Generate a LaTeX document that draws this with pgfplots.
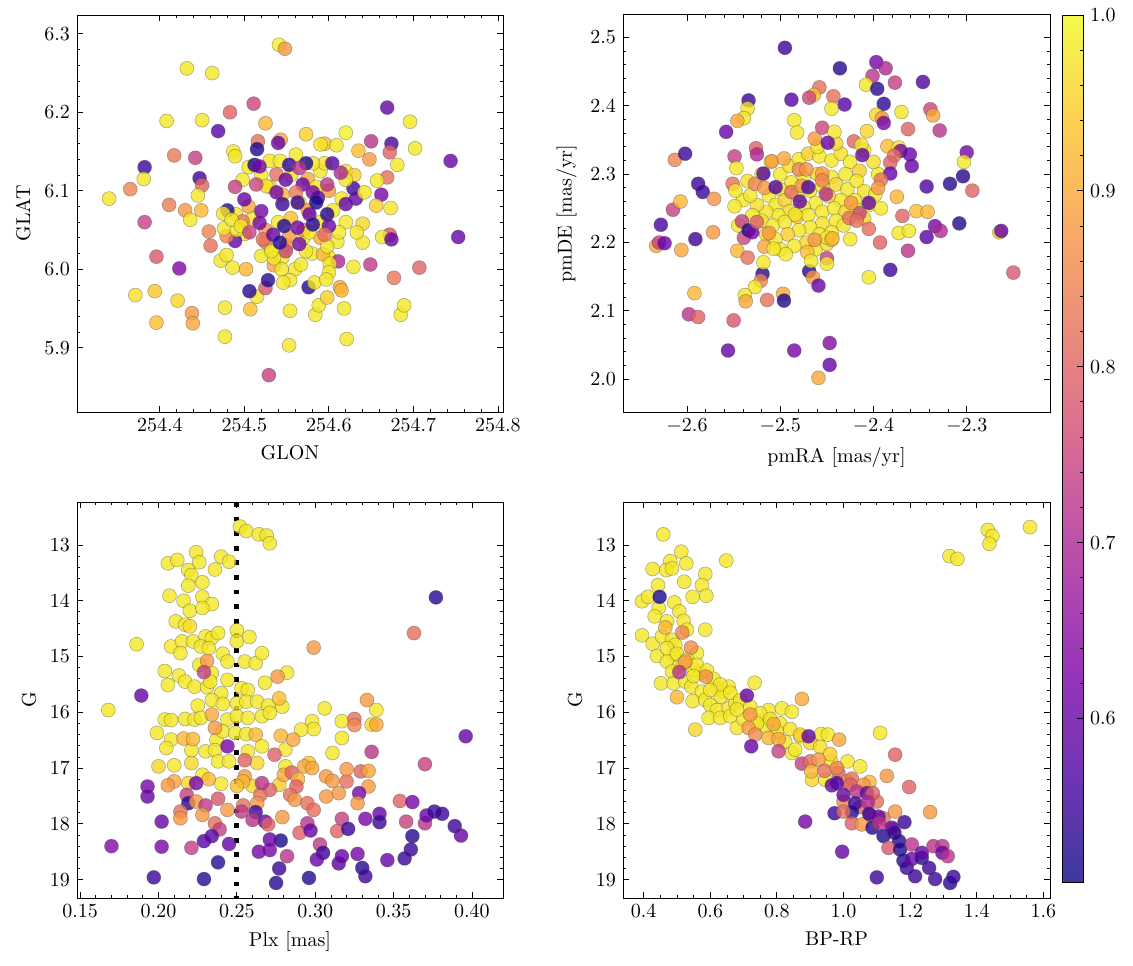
\documentclass[border=0pt]{standalone}
\usepackage{pgfplots}
\usepackage{pgfplotstable}
\pgfplotsset{compat=1.18}
\pgfplotsset{
 colormap={plasmalight}{rgb255=(61,57,159) rgb255=(112,53,180) rgb255=(152,53,185) rgb255=(185,78,171) rgb255=(213,107,148) rgb255=(234,137,125) rgb255=(249,170,102) rgb255=(253,207,83) rgb255=(243,250,77)},
 colormap={plasma}{rgb255=(13,8,135) rgb255=(76,2,161) rgb255=(126,3,168) rgb255=(168,34,150) rgb255=(203,70,121) rgb255=(229,107,93) rgb255=(248,149,64) rgb255=(253,195,40) rgb255=(240,249,33)},
 panel/.style={scale only axis, tick align=inside, tick pos=both, xticklabel pos=lower, yticklabel pos=left,
   major tick length=3pt, minor tick length=1.6pt, every tick/.style={black, line width=0.4pt},
   axis line style={line width=0.5pt}, colormap name=plasma, point meta min=0.507, point meta max=1.0,
   scaled ticks=false},
 pts/.style={scatter, only marks, mark=*, mark size=3.5pt, scatter src=explicit,
   scatter/use mapped color={draw=black!70, fill=mapped color},
   mark options={fill opacity=0.8, draw opacity=0.45, line width=0.3pt}},
}

\pgfplotstableread{
x y c
254.530 6.105 0.95
254.555 6.120 0.98
254.575 6.115 0.90
254.590 6.125 0.98
254.600 6.100 0.88
254.545 6.095 0.92
254.565 6.085 0.98
254.575 6.075 0.88
254.555 6.065 0.93
254.540 6.060 0.98
254.525 6.050 0.88
254.510 6.065 0.98
254.505 6.080 0.90
254.590 6.060 0.98
254.605 6.075 0.98
254.615 6.090 0.98
254.620 6.060 0.98
254.610 6.035 0.98
254.590 6.040 0.90
254.570 6.040 0.98
254.550 6.030 0.90
254.530 6.025 0.98
254.525 6.035 0.85
254.500 6.045 0.98
254.490 6.070 0.98
254.570 6.050 0.85
254.585 6.105 0.98
254.595 6.135 0.98
254.520 6.120 0.98
254.505 6.130 0.98
254.620 6.125 0.98
254.630 6.120 0.95
254.600 6.015 0.98
254.580 6.020 0.98
254.560 6.000 0.98
254.545 6.015 0.98
254.535 6.005 0.90
254.541 6.286 0.99
254.548 6.281 0.88
254.432 6.256 0.98
254.462 6.250 0.98
254.511 6.211 0.75
254.669 6.206 0.60
254.483 6.200 0.80
254.408 6.189 0.98
254.450 6.190 0.98
254.525 6.186 0.92
254.696 6.188 0.98
254.469 6.176 0.58
254.573 6.172 0.95
254.620 6.174 0.99
254.516 6.163 0.82
254.543 6.165 0.90
254.540 6.161 0.60
254.595 6.160 0.93
254.609 6.158 0.98
254.590 6.159 0.98
254.650 6.163 0.72
254.674 6.160 0.56
254.702 6.154 0.98
254.635 6.151 0.93
254.672 6.149 0.80
254.487 6.150 0.98
254.515 6.153 0.52
254.417 6.145 0.83
254.442 6.142 0.74
254.648 6.140 0.88
254.382 6.130 0.55
254.744 6.138 0.60
254.681 6.133 0.98
254.381 6.115 0.98
254.447 6.116 0.55
254.450 6.107 0.80
254.365 6.102 0.85
254.340 6.090 0.98
254.445 6.094 0.98
254.669 6.117 0.82
254.657 6.113 0.98
254.629 6.103 0.56
254.632 6.090 0.60
254.662 6.095 0.62
254.642 6.098 0.98
254.411 6.082 0.84
254.430 6.075 0.88
254.449 6.075 0.92
254.436 6.063 0.98
254.656 6.081 0.95
254.673 6.078 0.98
254.382 6.060 0.74
254.458 6.048 0.85
254.460 6.030 0.82
254.396 6.016 0.78
254.423 6.001 0.63
254.371 5.967 0.97
254.394 5.972 0.94
254.421 5.960 0.96
254.396 5.932 0.93
254.438 5.944 0.88
254.439 5.931 0.90
254.477 5.951 0.98
254.477 5.914 0.98
254.507 5.949 0.93
254.515 5.965 0.98
254.506 5.972 0.53
254.525 5.976 0.78
254.528 5.986 0.53
254.554 5.947 0.98
254.553 5.903 0.98
254.529 5.865 0.74
254.584 5.942 0.98
254.588 5.954 0.98
254.598 5.964 0.95
254.618 5.950 0.98
254.613 5.977 0.90
254.615 5.973 0.92
254.576 5.977 0.53
254.583 5.983 0.98
254.621 5.911 0.98
254.685 5.942 0.98
254.689 5.954 0.98
254.677 5.989 0.83
254.707 6.002 0.80
254.649 6.006 0.73
254.629 6.003 0.98
254.611 6.010 0.70
254.753 6.041 0.60
254.672 6.044 0.78
254.663 6.041 0.98
254.674 6.038 0.60
254.640 6.034 0.98
254.640 6.058 0.96
254.633 6.047 0.98
254.593 6.019 0.92
254.601 6.007 0.98
254.600 5.996 0.98
254.597 5.987 0.98
254.567 6.006 0.98
254.573 6.023 0.98
254.549 6.023 0.75
254.544 6.000 0.98
254.535 6.014 0.98
254.554 5.986 0.98
254.546 5.983 0.98
254.502 6.000 0.92
254.486 6.002 0.98
254.472 6.011 0.98
254.479 6.018 0.98
254.489 6.036 0.60
254.479 6.042 0.85
254.476 6.052 0.98
254.480 6.075 0.53
254.475 6.071 0.98
254.498 6.061 0.83
254.491 6.050 0.98
254.485 6.063 0.98
254.489 6.144 0.98
254.530 6.138 0.98
254.542 6.138 0.98
254.561 6.146 0.98
254.581 6.135 0.98
254.620 6.114 0.98
254.526 6.106 0.98
254.498 6.114 0.98
254.577 6.047 0.98
254.598 6.029 0.98
254.612 6.047 0.98
254.496 6.055 0.98
254.520 6.017 0.98
254.532 6.023 0.98
254.553 6.042 0.88
254.512 6.133 0.52
254.518 6.131 0.62
254.553 6.133 0.54
254.573 6.135 0.52
254.565 6.129 0.72
254.604 6.135 0.58
254.614 6.123 0.70
254.538 6.121 0.82
254.549 6.114 0.60
254.569 6.108 0.60
254.561 6.098 0.83
254.581 6.098 0.62
254.598 6.108 0.72
254.587 6.091 0.58
254.538 6.098 0.62
254.514 6.108 0.75
254.489 6.105 0.74
254.500 6.089 0.60
254.520 6.074 0.62
254.545 6.083 0.55
254.563 6.085 0.55
254.585 6.085 0.52
254.598 6.070 0.53
254.620 6.083 0.60
254.518 6.059 0.62
254.506 6.047 0.74
254.522 6.038 0.82
254.534 6.044 0.60
254.542 6.034 0.53
254.547 6.055 0.53
254.563 6.053 0.62
254.577 6.070 0.60
254.581 6.057 0.53
254.600 6.055 0.60
254.595 6.044 0.82
254.565 6.032 0.62
}\tabA

\pgfplotstableread{
x y c
-2.500 2.300 0.98
-2.490 2.312 0.97
-2.480 2.322 0.98
-2.470 2.330 0.95
-2.458 2.326 0.98
-2.445 2.320 0.98
-2.435 2.330 0.97
-2.425 2.318 0.98
-2.415 2.305 0.95
-2.430 2.300 0.98
-2.445 2.296 0.98
-2.460 2.300 0.96
-2.475 2.295 0.98
-2.488 2.288 0.98
-2.500 2.278 0.97
-2.512 2.268 0.98
-2.505 2.255 0.98
-2.495 2.262 0.95
-2.482 2.270 0.98
-2.468 2.276 0.98
-2.455 2.282 0.98
-2.440 2.285 0.96
-2.428 2.278 0.98
-2.418 2.290 0.98
-2.410 2.275 0.97
-2.420 2.262 0.98
-2.435 2.262 0.98
-2.448 2.268 0.94
-2.462 2.258 0.98
-2.475 2.252 0.98
-2.490 2.246 0.96
-2.502 2.240 0.98
-2.515 2.245 0.98
-2.525 2.255 0.97
-2.520 2.232 0.98
-2.508 2.225 0.98
-2.495 2.230 0.98
-2.482 2.238 0.94
-2.470 2.240 0.98
-2.455 2.245 0.98
-2.442 2.250 0.98
-2.430 2.245 0.96
-2.418 2.248 0.98
-2.405 2.255 0.98
-2.440 2.232 0.98
-2.455 2.228 0.97
-2.468 2.222 0.98
-2.480 2.218 0.98
-2.492 2.212 0.95
-2.505 2.205 0.98
-2.458 2.212 0.98
-2.445 2.215 0.98
-2.432 2.225 0.98
-2.472 2.200 0.96
-2.485 2.195 0.98
-2.462 2.190 0.98
-2.450 2.198 0.97
-2.530 2.240 0.98
-2.540 2.262 0.98
-2.535 2.290 0.97
-2.520 2.300 0.98
-2.510 2.318 0.98
-2.460 2.340 0.98
-2.440 2.345 0.96
-2.410 2.335 0.98
-2.395 2.300 0.98
-2.400 2.318 0.97
-2.398 2.270 0.98
-2.392 2.250 0.98
-2.410 2.235 0.96
-2.425 2.205 0.98
-2.500 2.190 0.98
-2.515 2.212 0.97
-2.545 2.225 0.98
-2.495 2.485 0.55
-2.436 2.455 0.53
-2.397 2.464 0.62
-2.387 2.455 0.70
-2.401 2.444 0.72
-2.377 2.434 0.74
-2.347 2.435 0.57
-2.408 2.431 0.98
-2.396 2.425 0.53
-2.389 2.403 0.54
-2.431 2.402 0.58
-2.458 2.427 0.82
-2.464 2.416 0.93
-2.469 2.412 0.75
-2.443 2.414 0.82
-2.488 2.409 0.58
-2.534 2.408 0.55
-2.535 2.396 0.97
-2.539 2.382 0.98
-2.546 2.378 0.90
-2.558 2.362 0.60
-2.445 2.396 0.98
-2.485 2.379 0.98
-2.482 2.361 0.98
-2.455 2.368 0.75
-2.442 2.362 0.98
-2.463 2.352 0.88
-2.449 2.346 0.60
-2.407 2.363 0.96
-2.397 2.387 0.96
-2.391 2.382 0.88
-2.389 2.375 0.62
-2.370 2.391 0.98
-2.363 2.366 0.80
-2.339 2.395 0.75
-2.336 2.386 0.90
-2.329 2.364 0.72
-2.421 2.348 0.80
-2.413 2.343 0.98
-2.412 2.328 0.60
-2.385 2.341 0.93
-2.373 2.339 0.98
-2.371 2.334 0.62
-2.361 2.329 0.60
-2.359 2.312 0.60
-2.378 2.327 0.82
-2.382 2.317 0.80
-2.300 2.332 0.62
-2.303 2.318 0.98
-2.304 2.297 0.53
-2.318 2.286 0.53
-2.343 2.282 0.57
-2.294 2.276 0.80
-2.382 2.301 0.60
-2.392 2.292 0.82
-2.395 2.280 0.88
-2.375 2.267 0.92
-2.354 2.246 0.93
-2.342 2.245 0.92
-2.369 2.239 0.80
-2.405 2.258 0.60
-2.415 2.243 0.75
-2.424 2.258 0.88
-2.405 2.220 0.82
-2.393 2.200 0.80
-2.373 2.214 0.98
-2.362 2.217 0.98
-2.334 2.224 0.62
-2.328 2.217 0.70
-2.343 2.208 0.58
-2.308 2.228 0.53
-2.265 2.215 0.96
-2.263 2.217 0.60
-2.363 2.188 0.72
-2.382 2.160 0.55
-2.405 2.149 0.98
-2.250 2.156 0.78
-2.450 2.177 0.74
-2.450 2.169 0.98
-2.469 2.158 0.53
-2.465 2.149 0.88
-2.459 2.137 0.60
-2.471 2.186 0.93
-2.467 2.173 0.98
-2.450 2.207 0.98
-2.445 2.204 0.96
-2.519 2.154 0.53
-2.518 2.171 0.98
-2.521 2.144 0.85
-2.527 2.135 0.98
-2.538 2.123 0.98
-2.537 2.114 0.90
-2.514 2.116 0.82
-2.497 2.125 0.90
-2.496 2.115 0.52
-2.592 2.126 0.92
-2.598 2.095 0.72
-2.588 2.091 0.80
-2.550 2.086 0.78
-2.556 2.042 0.60
-2.485 2.042 0.62
-2.447 2.053 0.64
-2.447 2.021 0.60
-2.459 2.002 0.90
-2.633 2.195 0.90
-2.630 2.200 0.74
-2.624 2.199 0.60
-2.628 2.226 0.56
-2.606 2.189 0.90
-2.591 2.205 0.55
-2.572 2.215 0.88
-2.615 2.248 0.74
-2.607 2.260 0.92
-2.588 2.286 0.55
-2.583 2.274 0.55
-2.571 2.264 0.87
-2.613 2.321 0.85
-2.602 2.330 0.55
-2.549 2.326 0.74
-2.547 2.309 0.98
-2.526 2.338 0.80
-2.525 2.329 0.70
-2.551 2.286 0.82
-2.548 2.276 0.98
-2.549 2.253 0.98
-2.532 2.269 0.98
-2.527 2.286 0.85
-2.518 2.301 0.58
-2.517 2.280 0.88
-2.509 2.319 0.88
-2.496 2.323 0.90
-2.505 2.281 0.57
-2.488 2.274 0.82
-2.477 2.283 0.88
-2.470 2.281 0.57
-2.480 2.307 0.85
-2.472 2.307 0.87
-2.479 2.260 0.60
-2.451 2.271 0.72
-2.455 2.301 0.88
-2.455 2.291 0.85
-2.541 2.231 0.74
-2.539 2.207 0.75
-2.534 2.218 0.52
-2.530 2.215 0.62
-2.546 2.188 0.92
-2.535 2.178 0.82
-2.525 2.230 0.80
-2.512 2.214 0.88
-2.517 2.194 0.90
-2.494 2.183 0.98
-2.507 2.191 0.98
-2.463 2.204 0.88
-2.444 2.206 0.92
-2.426 2.236 0.82
-2.418 2.232 0.82
-2.484 2.241 0.98
}\tabB

\pgfplotstableread{
x y c
0.252 12.67 0.98
0.256 12.75 0.98
0.264 12.81 0.98
0.269 12.83 0.98
0.271 12.97 0.98
0.224 13.13 0.98
0.206 13.33 0.98
0.212 13.27 0.98
0.226 13.31 0.98
0.219 13.45 0.98
0.221 13.54 0.98
0.240 13.21 0.98
0.245 13.30 0.98
0.236 13.44 0.98
0.228 13.67 0.98
0.219 13.73 0.98
0.207 13.91 0.98
0.228 13.93 0.98
0.234 14.06 0.98
0.216 14.00 0.98
0.220 14.18 0.98
0.228 14.13 0.98
0.211 14.37 0.98
0.217 14.43 0.98
0.220 14.46 0.97
0.186 14.78 0.98
0.208 14.82 0.98
0.215 14.73 0.98
0.222 14.73 0.98
0.230 14.64 0.98
0.234 14.67 0.98
0.238 14.58 0.98
0.250 14.53 0.98
0.250 14.73 0.98
0.258 14.65 0.98
0.214 14.94 0.98
0.227 14.82 0.98
0.232 14.85 0.98
0.241 14.95 0.98
0.244 15.09 0.98
0.255 15.09 0.98
0.262 15.12 0.98
0.266 14.94 0.98
0.226 15.15 0.98
0.204 15.26 0.98
0.213 15.34 0.98
0.234 15.30 0.98
0.244 15.42 0.98
0.282 15.29 0.98
0.206 15.51 0.98
0.217 15.45 0.98
0.223 15.54 0.98
0.231 15.55 0.98
0.233 15.45 0.98
0.240 15.66 0.98
0.253 15.57 0.98
0.257 15.60 0.98
0.268 15.47 0.98
0.168 15.96 0.98
0.225 15.88 0.98
0.234 15.78 0.98
0.241 15.85 0.98
0.250 15.84 0.98
0.256 15.81 0.98
0.263 15.81 0.98
0.270 15.88 0.98
0.279 15.90 0.98
0.306 15.93 0.98
0.339 15.96 0.98
0.204 16.13 0.98
0.208 16.14 0.98
0.217 16.12 0.98
0.223 16.13 0.98
0.227 16.10 0.98
0.244 16.13 0.98
0.250 16.07 0.98
0.257 16.10 0.98
0.266 16.07 0.98
0.271 16.01 0.98
0.298 16.16 0.98
0.299 16.30 0.98
0.317 16.16 0.98
0.336 16.22 0.96
0.199 16.37 0.98
0.208 16.49 0.98
0.237 16.49 0.98
0.241 16.34 0.98
0.249 16.37 0.98
0.256 16.39 0.98
0.291 16.31 0.98
0.317 16.46 0.98
0.205 16.64 0.98
0.221 16.68 0.98
0.230 16.70 0.98
0.236 16.68 0.98
0.257 16.70 0.98
0.266 16.61 0.98
0.281 16.67 0.98
0.311 16.73 0.98
0.200 16.97 0.96
0.210 16.95 0.98
0.221 16.91 0.96
0.238 16.88 0.98
0.245 16.88 0.98
0.263 16.91 0.96
0.281 16.97 0.98
0.277 17.30 0.95
0.260 17.32 0.96
0.240 17.28 0.98
0.228 17.12 0.98
0.219 17.27 0.96
0.231 15.08 0.88
0.229 15.28 0.74
0.276 15.36 0.88
0.189 15.70 0.60
0.277 15.75 0.93
0.333 15.78 0.88
0.363 14.58 0.82
0.377 13.94 0.53
0.299 14.84 0.88
0.234 16.04 0.90
0.236 16.28 0.88
0.325 16.12 0.82
0.325 16.23 0.85
0.339 16.22 0.90
0.216 16.47 0.92
0.222 16.48 0.92
0.262 16.40 0.92
0.278 16.42 0.92
0.286 16.49 0.90
0.244 16.61 0.62
0.274 16.76 0.80
0.336 16.71 0.72
0.396 16.43 0.60
0.370 16.93 0.74
0.255 16.86 0.80
0.296 16.91 0.94
0.293 16.97 0.90
0.298 17.00 0.90
0.280 17.12 0.90
0.285 17.08 0.80
0.289 17.20 0.92
0.307 17.15 0.88
0.311 17.23 0.88
0.320 17.24 0.82
0.320 17.02 0.88
0.329 17.06 0.80
0.334 17.05 0.90
0.334 17.33 0.88
0.328 17.45 0.62
0.327 17.63 0.88
0.315 17.45 0.88
0.307 17.51 0.88
0.288 17.33 0.80
0.284 17.48 0.82
0.287 17.57 0.88
0.271 17.39 0.80
0.265 17.48 0.82
0.263 17.63 0.88
0.266 17.27 0.72
0.255 17.15 0.88
0.254 17.24 0.92
0.250 17.32 0.93
0.232 17.20 0.92
0.224 17.27 0.62
0.210 17.24 0.90
0.206 17.31 0.88
0.193 17.33 0.62
0.193 17.51 0.60
0.218 17.48 0.74
0.219 17.63 0.53
0.224 17.60 0.88
0.230 17.67 0.73
0.238 17.55 0.78
0.244 17.75 0.88
0.254 17.67 0.82
0.253 17.78 0.73
0.262 17.79 0.55
0.260 17.93 0.72
0.268 17.96 0.60
0.270 18.01 0.80
0.279 17.88 0.88
0.295 17.63 0.82
0.299 17.75 0.82
0.214 17.78 0.82
0.214 17.90 0.88
0.228 17.84 0.88
0.202 17.96 0.60
0.236 17.99 0.82
0.239 18.10 0.74
0.234 18.22 0.58
0.229 18.31 0.58
0.245 18.36 0.60
0.221 18.43 0.74
0.202 18.41 0.62
0.170 18.40 0.64
0.238 18.69 0.53
0.197 18.96 0.55
0.229 18.99 0.53
0.275 19.06 0.53
0.277 18.80 0.55
0.278 18.30 0.52
0.271 18.28 0.60
0.271 18.47 0.62
0.264 18.50 0.62
0.282 18.58 0.72
0.290 18.16 0.80
0.295 17.99 0.72
0.297 18.12 0.60
0.303 18.37 0.73
0.305 18.52 0.55
0.301 18.64 0.60
0.296 18.97 0.53
0.314 18.13 0.80
0.317 17.91 0.74
0.321 18.09 0.55
0.315 18.71 0.58
0.317 18.58 0.60
0.327 18.54 0.62
0.330 18.79 0.53
0.332 18.94 0.55
0.332 17.91 0.62
0.341 17.82 0.60
0.341 17.97 0.55
0.346 18.65 0.60
0.354 17.59 0.80
0.358 17.96 0.74
0.362 17.61 0.62
0.362 18.22 0.53
0.361 18.46 0.55
0.357 18.62 0.55
0.370 17.99 0.72
0.371 17.85 0.60
0.376 17.78 0.55
0.381 17.82 0.55
0.389 18.04 0.55
0.393 18.21 0.60
}\tabC

\pgfplotstableread{
x y c
1.433 12.73 0.98
1.447 12.84 0.98
1.438 12.98 0.98
1.560 12.68 0.98
1.318 13.20 0.98
1.342 13.25 0.98
0.459 12.81 0.98
0.513 13.12 0.98
0.480 13.29 0.98
0.427 13.43 0.98
0.468 13.45 0.98
0.485 13.42 0.98
0.528 13.33 0.98
0.648 13.28 0.98
0.585 13.52 0.98
0.522 13.66 0.98
0.443 13.72 0.98
0.575 13.72 0.98
0.547 13.93 0.98
0.588 13.91 0.98
0.395 14.01 0.98
0.413 13.93 0.98
0.445 14.13 0.98
0.492 14.03 0.98
0.507 14.19 0.98
0.433 14.28 0.98
0.470 14.37 0.98
0.520 14.36 0.98
0.530 14.52 0.98
0.585 14.52 0.98
0.395 14.62 0.98
0.427 14.77 0.98
0.455 14.64 0.98
0.485 14.70 0.98
0.495 14.79 0.98
0.560 14.94 0.98
0.440 14.99 0.98
0.490 14.97 0.98
0.470 15.09 0.98
0.505 15.18 0.98
0.485 15.27 0.98
0.550 15.24 0.98
0.570 15.30 0.98
0.452 15.48 0.98
0.490 15.48 0.98
0.525 15.45 0.98
0.543 15.54 0.98
0.575 15.63 0.98
0.547 15.80 0.98
0.585 15.78 0.98
0.620 15.57 0.98
0.640 15.63 0.98
0.655 15.54 0.98
0.632 15.72 0.98
0.600 15.87 0.98
0.620 15.96 0.98
0.655 15.93 0.98
0.675 15.84 0.98
0.733 15.47 0.98
0.595 16.10 0.98
0.630 16.10 0.98
0.660 16.07 0.98
0.555 16.31 0.96
0.680 16.28 0.98
0.700 16.13 0.98
0.745 16.16 0.98
0.775 15.96 0.98
0.815 15.93 0.98
0.845 15.99 0.98
0.765 16.25 0.98
0.825 16.53 0.98
0.845 16.73 0.98
0.855 16.67 0.98
0.870 16.43 0.98
0.933 16.39 0.98
0.953 16.40 0.98
1.110 16.37 0.98
0.963 16.88 0.98
1.012 16.88 0.98
1.050 16.97 0.98
0.905 17.21 0.96
0.945 17.21 0.98
0.470 14.85 0.98
0.500 14.95 0.98
0.530 15.05 0.98
0.560 15.15 0.98
0.590 15.25 0.98
0.610 15.40 0.98
0.630 15.50 0.98
0.660 15.65 0.98
0.690 15.78 0.98
0.720 15.90 0.98
0.750 16.02 0.98
0.780 16.12 0.98
0.810 16.20 0.98
0.840 16.30 0.97
0.870 16.40 0.95
0.900 16.55 0.96
0.930 16.62 0.97
0.960 16.75 0.95
0.520 15.12 0.98
0.550 15.35 0.98
0.600 15.60 0.98
0.680 15.95 0.98
0.740 16.20 0.98
0.800 16.35 0.98
0.448 13.93 0.52
0.465 14.48 0.92
0.516 14.57 0.85
0.542 14.84 0.86
0.525 15.09 0.88
0.507 15.28 0.72
0.587 15.36 0.87
0.500 15.73 0.92
0.710 15.70 0.60
0.720 16.04 0.88
0.875 15.76 0.90
0.715 16.28 0.88
0.735 16.40 0.86
0.790 16.21 0.90
0.775 16.46 0.92
0.805 16.48 0.90
0.723 16.61 0.60
0.805 16.70 0.74
0.895 16.43 0.60
0.987 16.49 0.90
0.875 16.92 0.74
0.900 16.88 0.82
0.925 16.85 0.88
0.903 17.06 0.92
0.943 17.05 0.82
0.985 17.09 0.80
1.010 17.24 0.88
1.025 17.19 0.82
1.078 17.25 0.92
1.130 17.14 0.88
1.155 16.76 0.80
1.197 17.34 0.80
1.260 17.79 0.88
0.980 17.00 0.85
1.020 17.30 0.80
1.060 17.30 0.88
1.100 17.60 0.82
1.050 17.70 0.80
1.000 17.60 0.85
1.120 17.90 0.82
1.080 17.85 0.78
1.150 18.10 0.80
0.965 17.31 0.60
0.980 17.27 0.58
1.000 17.48 0.60
1.040 17.42 0.72
1.035 17.63 0.55
1.070 17.45 0.60
1.088 17.45 0.80
1.073 17.61 0.70
1.025 17.79 0.53
0.973 17.81 0.55
1.000 17.78 0.82
1.025 17.99 0.80
1.055 18.01 0.88
1.077 17.82 0.55
1.105 17.87 0.60
1.087 18.07 0.53
1.107 17.99 0.72
1.120 18.22 0.52
1.145 18.07 0.60
1.155 17.78 0.88
1.153 18.16 0.55
1.167 18.31 0.53
1.183 17.97 0.55
1.135 18.43 0.78
1.170 18.46 0.52
1.205 18.37 0.72
1.180 18.66 0.53
1.190 18.79 0.55
1.215 18.94 0.55
1.205 18.63 0.60
1.235 18.61 0.53
1.235 18.52 0.60
1.257 18.79 0.55
1.270 18.40 0.72
1.297 18.40 0.72
1.297 18.52 0.60
1.313 18.58 0.72
1.275 18.99 0.55
1.320 19.06 0.53
1.330 18.95 0.55
1.100 18.96 0.55
0.996 18.50 0.60
0.885 17.96 0.62
}\tabD

\begin{document}
\begin{tikzpicture}
\path[use as bounding box] (0,0) rectangle (566.5pt,482.5pt);

% top-left
\begin{axis}[panel, at={(38.5pt,276.5pt)}, anchor=south west, width=213pt, height=198.5pt,
  xmin=254.302, xmax=254.806, ymin=5.818, ymax=6.324,
  xtick={254.4,254.5,254.6,254.7,254.8}, ytick={5.9,6.0,6.1,6.2,6.3},
  minor x tick num=4, minor y tick num=4,
  xticklabel style={/pgf/number format/.cd, fixed, fixed zerofill, precision=1},
  yticklabel style={/pgf/number format/.cd, fixed, fixed zerofill, precision=1},
  xlabel={GLON}, ylabel={GLAT}]
\addplot[pts] table[x=x, y=y, meta=c]{\tabA};
\end{axis}

% top-right
\begin{axis}[panel, at={(311.5pt,276.5pt)}, anchor=south west, width=213.5pt, height=198.5pt,
  xmin=-2.6686, xmax=-2.2107, ymin=1.952, ymax=2.533,
  xtick={-2.6,-2.5,-2.4,-2.3}, ytick={2.0,2.1,2.2,2.3,2.4,2.5},
  minor x tick num=4, minor y tick num=4,
  xticklabel style={/pgf/number format/.cd, fixed, fixed zerofill, precision=1},
  yticklabel style={/pgf/number format/.cd, fixed, fixed zerofill, precision=1},
  xlabel={pmRA [mas/yr]}, ylabel={pmDE [mas/yr]},
  colorbar,
  colorbar style={colormap name=plasmalight, scale only axis, anchor=north west,
    at={(parent axis.north east)}, xshift=-2.5pt, width=10.5pt, height=433.5pt,
    ytick={0.6,0.7,0.8,0.9,1.0}, minor y tick num=4,
    tick align=inside, ytick pos=right, yticklabel pos=right,
    major tick length=3pt, minor tick length=1.6pt,
    yticklabel style={/pgf/number format/.cd, fixed, fixed zerofill, precision=1}}]
\addplot[pts] table[x=x, y=y, meta=c]{\tabB};
\end{axis}

% bottom-left
\begin{axis}[panel, at={(38.5pt,33.5pt)}, anchor=south west, width=213pt, height=198pt,
  xmin=0.148, xmax=0.4198, ymin=12.23, ymax=19.33, y dir=reverse,
  xtick={0.15,0.20,0.25,0.30,0.35,0.40}, ytick={13,14,15,16,17,18,19},
  minor x tick num=4, minor y tick num=4,
  xticklabel style={/pgf/number format/.cd, fixed, fixed zerofill, precision=2},
  xlabel={Plx [mas]}, ylabel={G}]
\addplot[pts] table[x=x, y=y, meta=c]{\tabC};
\addplot[black, line width=2.4pt, dash pattern=on 2.4pt off 4.9pt, forget plot] coordinates {(0.25,12.23) (0.25,19.33)};
\end{axis}

% bottom-right
\begin{axis}[panel, at={(311.5pt,33.5pt)}, anchor=south west, width=213.5pt, height=198pt,
  xmin=0.338, xmax=1.62, ymin=12.23, ymax=19.33, y dir=reverse,
  xtick={0.4,0.6,0.8,1.0,1.2,1.4,1.6}, ytick={13,14,15,16,17,18,19},
  minor x tick num=3, minor y tick num=4,
  xticklabel style={/pgf/number format/.cd, fixed, fixed zerofill, precision=1},
  xlabel={BP-RP}, ylabel={G}]
\addplot[pts] table[x=x, y=y, meta=c]{\tabD};
\end{axis}
\end{tikzpicture}
\end{document}
